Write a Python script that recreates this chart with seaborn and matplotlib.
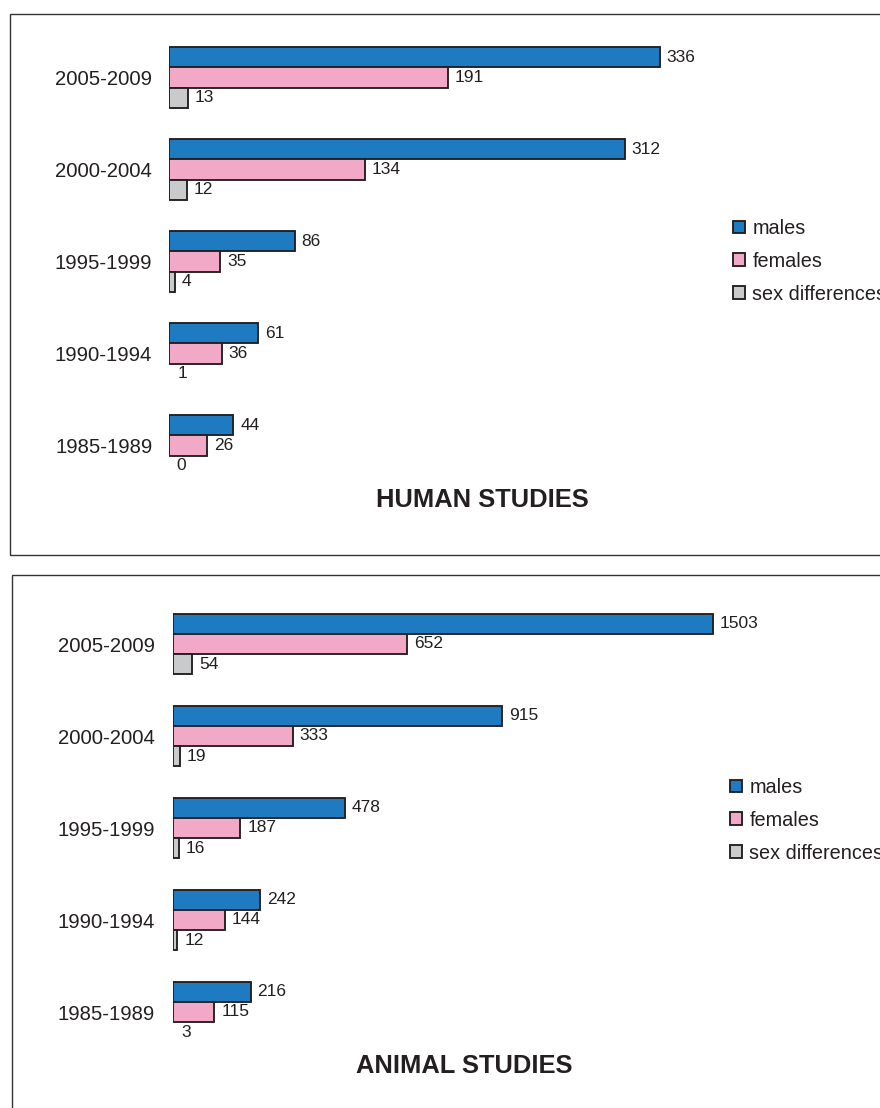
import matplotlib
matplotlib.use("Agg")
import matplotlib.pyplot as plt
from matplotlib import font_manager as fm
from matplotlib.patches import Rectangle
import seaborn as sns
import pandas as pd

# data
periods = ["2005-2009", "2000-2004", "1995-1999", "1990-1994", "1985-1989"]
groups = ["males", "females", "sex differences"]

human_males = [336, 312, 86, 61, 44]
human_females = [191, 134, 35, 36, 26]
human_sexdiff = [13, 12, 4, 1, 0]

animal_males = [1503, 915, 478, 242, 216]
animal_females = [652, 333, 187, 144, 115]
animal_sexdiff = [54, 19, 16, 12, 3]

colors = {"males": "#1f7bc1", "females": "#f1a9c7", "sex differences": "#c9cacc"}
ink = "#231f20"


def long_df(males, females, sexdiff):
    rows = []
    for g, vals in zip(groups, [males, females, sexdiff]):
        for p, v in zip(periods, vals):
            rows.append({"period": p, "group": g, "count": v})
    return pd.DataFrame(rows)


sns.set_theme(style="white")
plt.rcParams["font.family"] = ["Liberation Sans", "DejaVu Sans"]

# regular-width bold face for the panel titles (avoid the narrow variant)
title_font = fm.FontProperties(family="Liberation Sans", weight="bold", size=18.4)
for f in fm.fontManager.ttflist:
    if f.name == "Liberation Sans" and f.weight in (700, "bold") and f.style == "normal":
        title_font = fm.FontProperties(fname=f.fname, size=18.4)
        break

W, H = 880, 1108
fig = plt.figure(figsize=(W / 100, H / 100), dpi=100)


def px_axes(left, top, width, height):
    return fig.add_axes([left / W, 1 - (top + height) / H, width / W, height / H])


def panel(ax, df, xmax, px_per_unit, title, title_xy, legend_xy, pad):
    sns.barplot(data=df, y="period", x="count", hue="group", orient="h",
                order=periods, hue_order=groups, palette=colors,
                width=0.663, saturation=1, errorbar=None,
                edgecolor=ink, linewidth=1.35, ax=ax)
    for c in ax.containers:
        ax.bar_label(c, fmt="{:.0f}", padding=5, fontsize=12.5, color=ink)
        # bars thinner than ~2px vanish in the original
        for bar in c:
            if bar.get_width() * px_per_unit < 2:
                bar.set_visible(False)
    ax.set_xlim(0, xmax)
    ax.set_ylim(4.5, -0.5)
    ax.set_xlabel("")
    ax.set_ylabel("")
    ax.set_xticks([])
    ax.tick_params(axis="y", length=0, pad=pad, labelsize=14.6, labelcolor=ink)
    for s in ax.spines.values():
        s.set_visible(False)
    handles, labels = ax.get_legend_handles_labels()
    ax.legend(handles, labels, loc="upper left",
              bbox_to_anchor=(legend_xy[0] / W, 1 - legend_xy[1] / H),
              bbox_transform=fig.transFigure, frameon=False,
              fontsize=14.3, handlelength=0.62, handleheight=0.62,
              handletextpad=0.36, labelspacing=0.7, borderpad=0,
              borderaxespad=0, labelcolor=ink)
    fig.text(title_xy[0] / W, 1 - title_xy[1] / H, title, ha="center",
             va="center", fontproperties=title_font, color=ink)


# top panel: human studies
ax1 = px_axes(169, 31.5, 400 * 1.461, 460)
panel(ax1, long_df(human_males, human_females, human_sexdiff), 400, 1.461,
      "HUMAN STUDIES", (482, 500), (733, 219), 12)

# bottom panel: animal studies
ax2 = px_axes(173, 598, 1900 * 0.3593, 460)
panel(ax2, long_df(animal_males, animal_females, animal_sexdiff), 1900, 0.3593,
      "ANIMAL STUDIES", (464, 1066), (730, 778), 13)

# panel frames
for x0, y0, y1 in [(10, 14, 555), (12, 575, 1130)]:
    fig.patches.append(Rectangle((x0 / W, 1 - y1 / H), (W + 20 - x0) / W,
                                 (y1 - y0) / H, transform=fig.transFigure,
                                 fill=False, edgecolor="#333333", linewidth=1.0,
                                 clip_on=False))

fig.savefig("out.png", dpi=100)
